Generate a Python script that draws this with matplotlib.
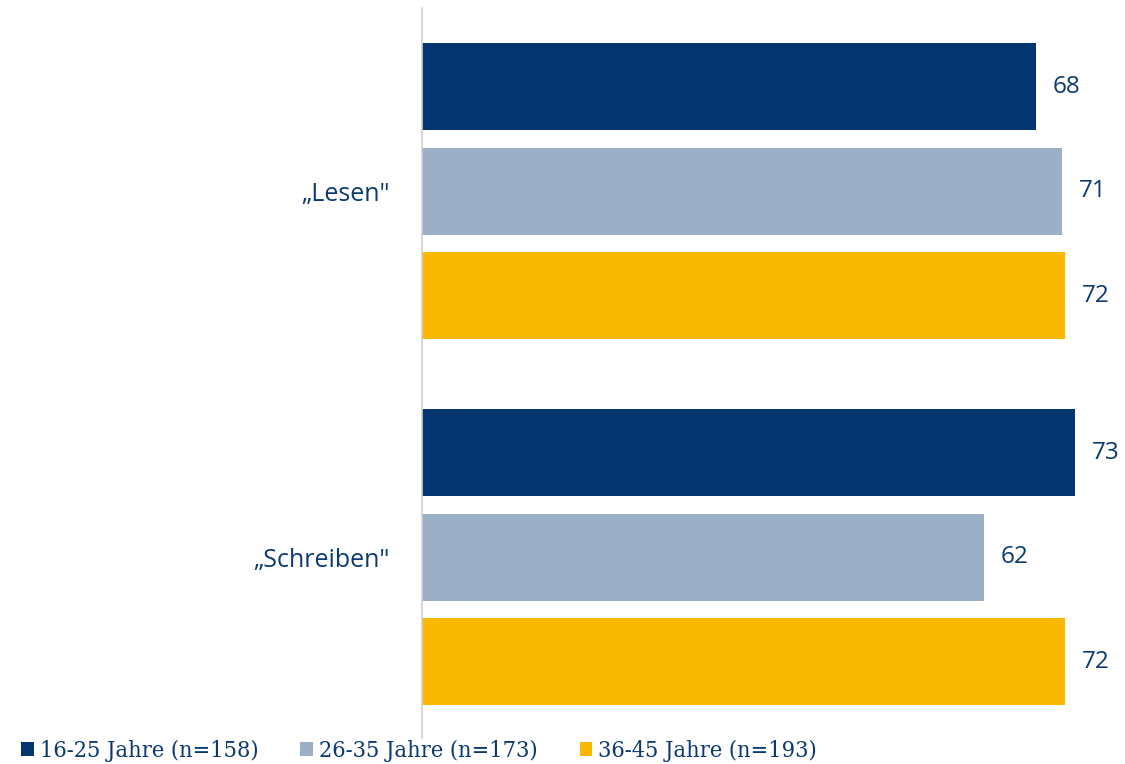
import matplotlib
matplotlib.use("Agg")
import matplotlib.pyplot as plt
from matplotlib.patches import Patch

categories = ["\u201eLesen\"", "\u201eSchreiben\""]
series = ["16-25 Jahre (n=158)", "26-35 Jahre (n=173)", "36-45 Jahre (n=193)"]
values = {
    "16-25 Jahre (n=158)": [68.4, 72.7],
    "26-35 Jahre (n=173)": [71.3, 62.6],
    "36-45 Jahre (n=193)": [71.6, 71.6],
}
labels = {
    "16-25 Jahre (n=158)": [68, 73],
    "26-35 Jahre (n=173)": [71, 62],
    "36-45 Jahre (n=193)": [72, 72],
}
colors = ["#03366E", "#9BB0C6", "#FAB800"]
text_color = "#0B3A70"

fig = plt.figure(figsize=(11.25, 7.64), dpi=100)
W, H = 1125, 764
ax = fig.add_axes([422 / W, 1 - 738 / H, (W - 422) / W, (738 - 8) / H])

group_gap = 3.5
bar_h = 0.833
for i, s in enumerate(series):
    for g, v in enumerate(values[s]):
        y = g * group_gap + (i - 1)
        ax.barh(y, v, height=bar_h, color=colors[i], edgecolor="none")
        ax.text(v + 1.85, y, f"{labels[s][g]}", va="center", ha="left",
                fontsize=17.5, fontweight="medium", color=text_color, family="Open Sans")

ax.set_xlim(0, (W - 422) / 8.98)
ax.set_ylim(group_gap + 1.732, -1.756)
ax.set_yticks([g * group_gap for g in range(len(categories))])
ax.set_yticklabels(categories, fontsize=18, fontweight="normal", color=text_color,
                   family="Open Sans")
ax.tick_params(axis="y", length=0, pad=23)
ax.set_xticks([])
for sp in ["top", "right", "bottom"]:
    ax.spines[sp].set_visible(False)
ax.spines["left"].set_color("#D0D0D0")
ax.spines["left"].set_linewidth(1.2)

handles = [Patch(facecolor=c, edgecolor="none") for c in colors]
leg = fig.legend(handles, series, loc="lower left", bbox_to_anchor=(0.0, -0.025),
                 ncol=3, frameon=False, handlelength=0.55, handleheight=0.55,
                 handletextpad=0.25, columnspacing=1.8,
                 prop={"family": "DejaVu Serif", "stretch": "condensed", "size": 16.8})
for t in leg.get_texts():
    t.set_color(text_color)

fig.savefig("out.png", dpi=100, facecolor="white")
